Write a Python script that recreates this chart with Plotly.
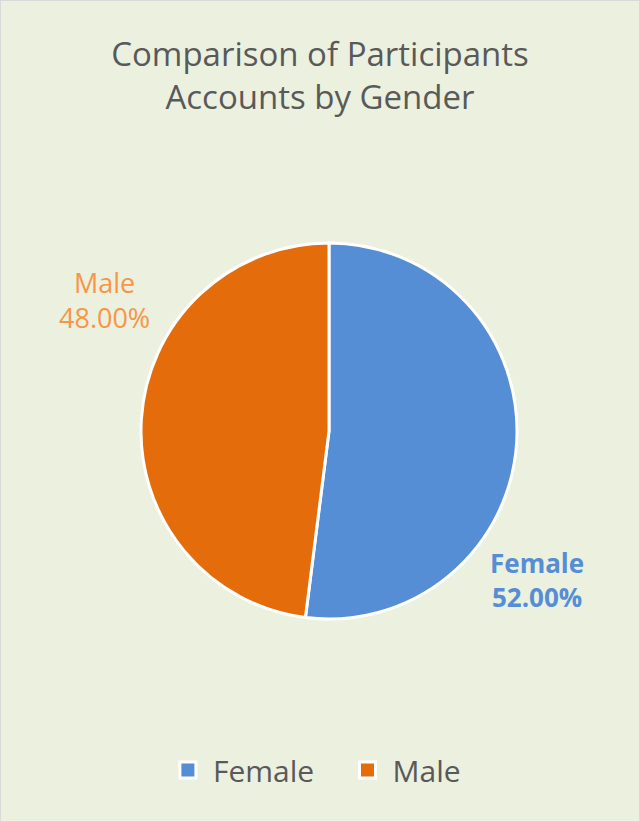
import plotly.graph_objects as go

labels = ["Female", "Male"]
values = [52.0, 48.0]
colors = ["#558ED5", "#E46C0A"]
label_colors = ["#558ED5", "#F79646"]
title_lines = ["Comparison of Participants", "Accounts by Gender"]

W, H = 640, 822
cx, cy, r = 329, 431, 188

fig = go.Figure(go.Pie(
    labels=labels, values=values, sort=False, direction="clockwise", rotation=0,
    marker=dict(colors=colors, line=dict(color="white", width=3)),
    textinfo="none", hoverinfo="label+percent", showlegend=False,
    domain=dict(x=[(cx - r) / W, (cx + r) / W], y=[1 - (cy + r) / H, 1 - (cy - r) / H]),
))

# legend entries as square markers
for lab, col in zip(labels, colors):
    fig.add_trace(go.Scatter(x=[None], y=[None], mode="markers", name=lab + "   ",
                             marker=dict(symbol="square", size=16, color=col,
                                         line=dict(color="white", width=3)),
                             showlegend=True))

total = sum(values)
label_pos = [(537, 580, True, 26), (104, 300, False, 27)]
for lab, v, col, (x, y, bold, fs) in zip(labels, values, label_colors, label_pos):
    txt = f"{lab}<br>{v / total * 100:.2f}%"
    if bold:
        txt = f"<b>{lab}</b><br><b>{v / total * 100:.2f}%</b>"
    fig.add_annotation(x=x / W, y=1 - y / H, xref="paper", yref="paper", text=txt,
                       showarrow=False, font=dict(family="Open Sans", size=fs, color=col),
                       xanchor="center", yanchor="middle", align="center")

fig.add_shape(type="rect", xref="paper", yref="paper", x0=0, y0=0, x1=1, y1=1,
              line=dict(color="#D9D9D9", width=2), fillcolor="rgba(0,0,0,0)")

fig.update_layout(
    width=W, height=H, margin=dict(l=0, r=0, t=0, b=0),
    paper_bgcolor="#EBF0DF", plot_bgcolor="rgba(0,0,0,0)",
    xaxis=dict(visible=False), yaxis=dict(visible=False),
    title=dict(text="<br>".join(title_lines), x=0.5, xanchor="center", y=1 - 66 / H, yanchor="middle",
               font=dict(family="Open Sans", size=33, color="#595959")),
    showlegend=True,
    legend=dict(orientation="h", x=0.51, xanchor="center", y=1 - 770 / H, yanchor="middle",
                font=dict(family="Open Sans", size=30, color="#595959"),
                itemsizing="trace", itemwidth=40, bgcolor="rgba(0,0,0,0)"),
)

fig.write_html("out.html")
